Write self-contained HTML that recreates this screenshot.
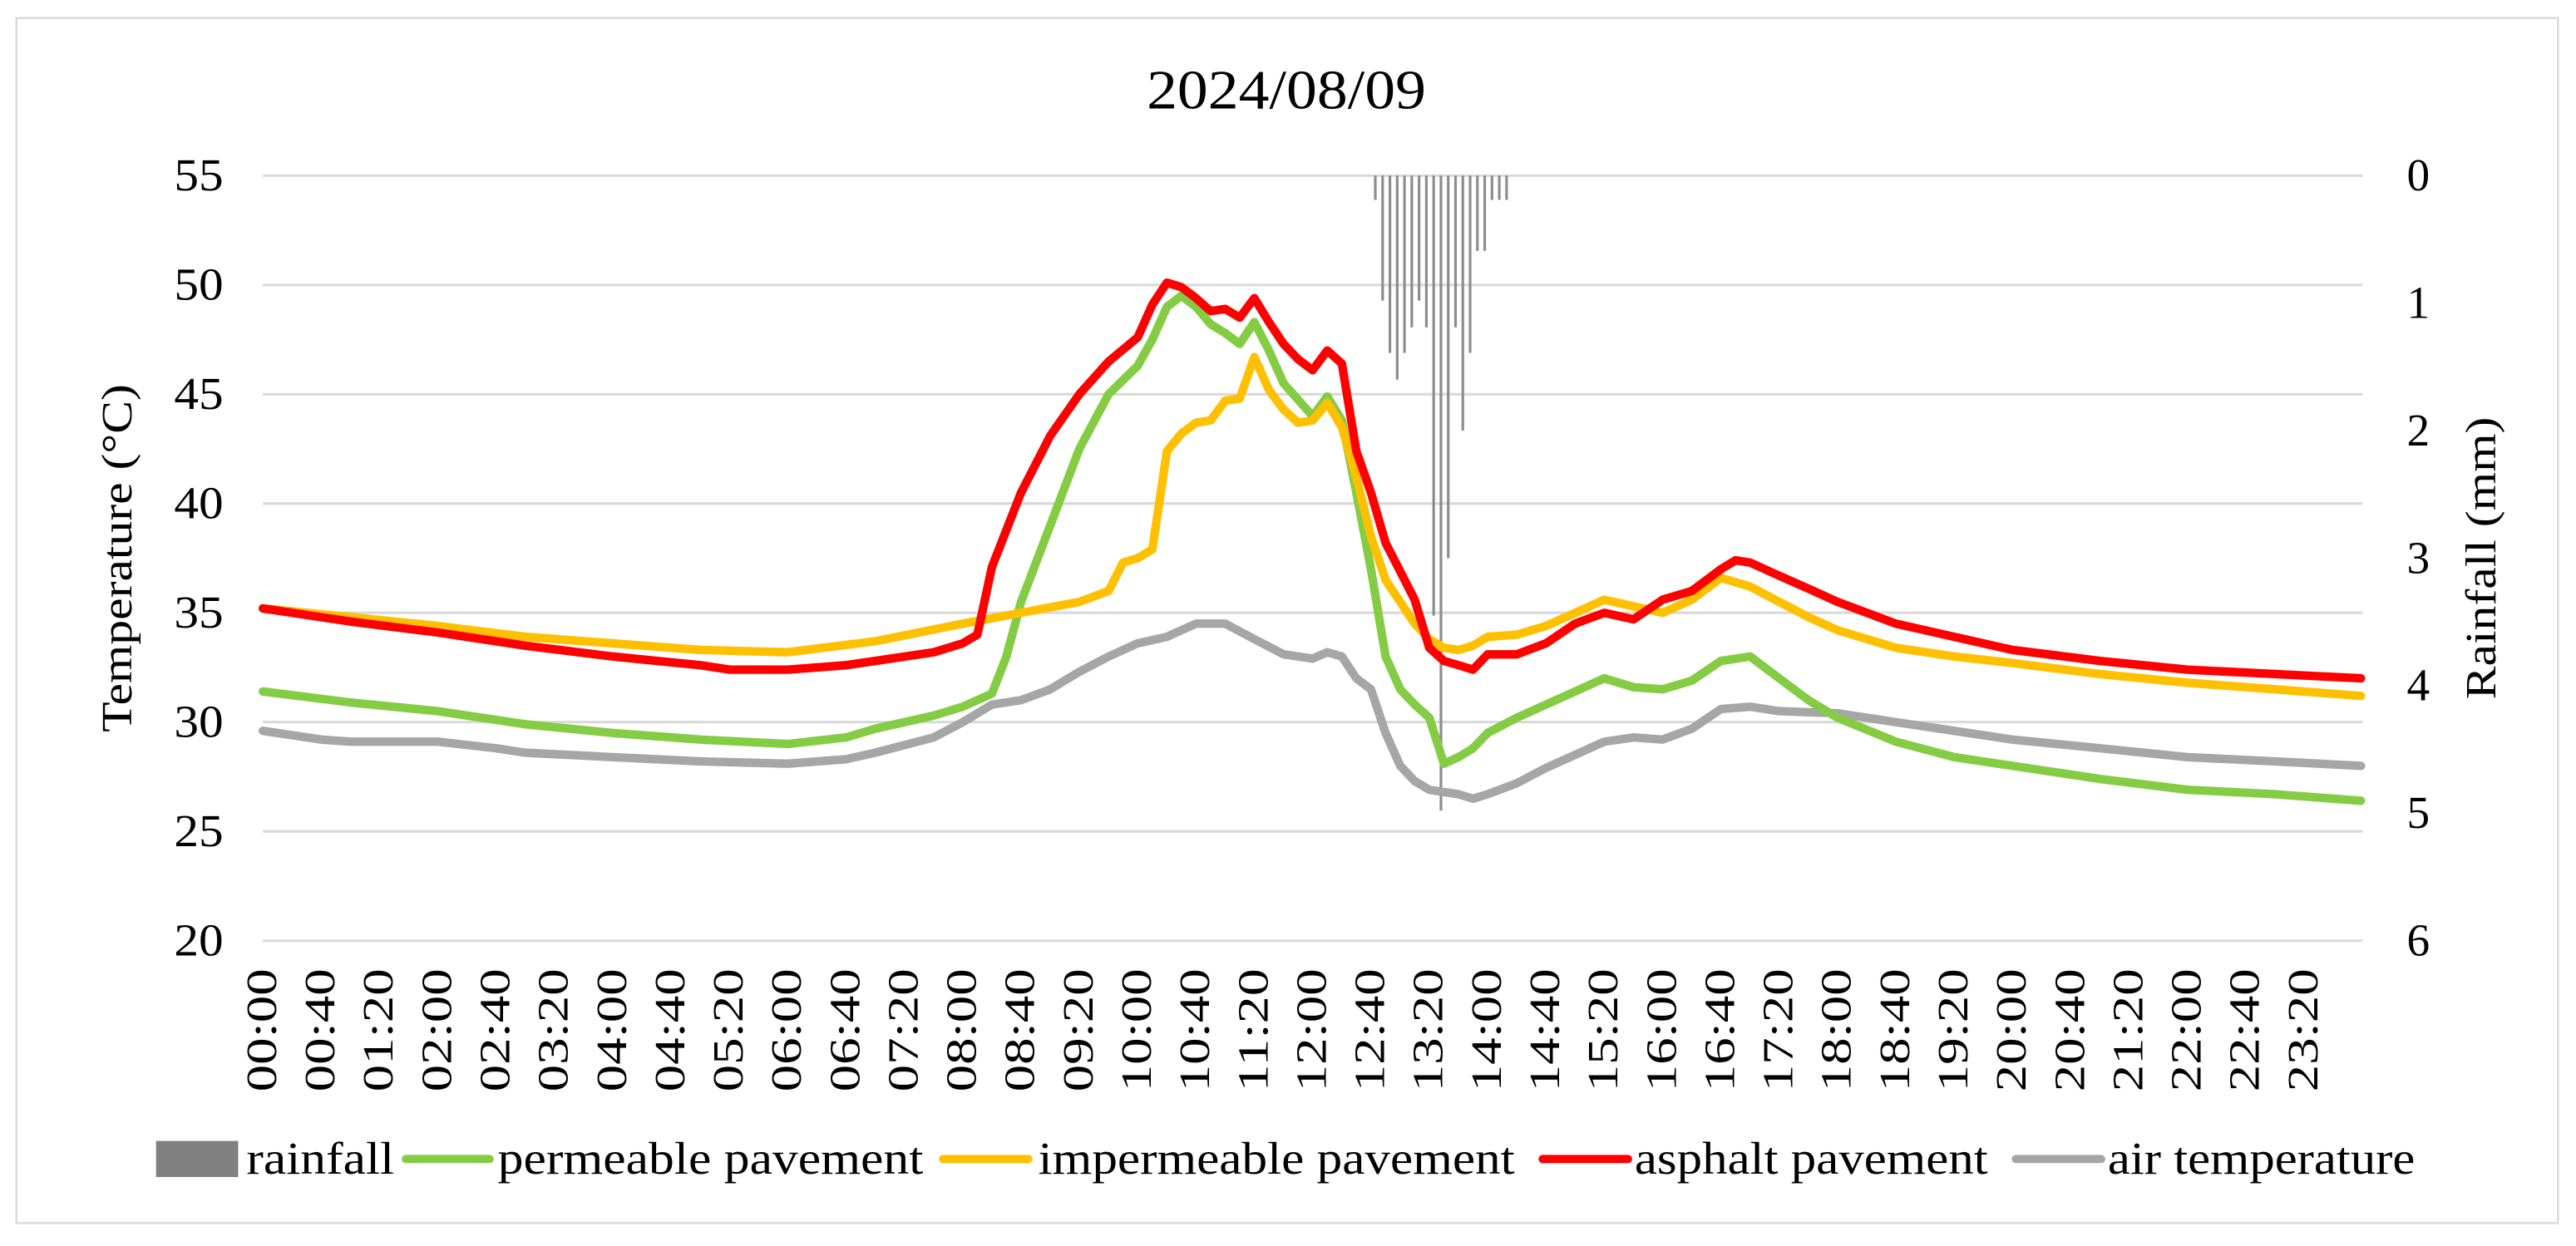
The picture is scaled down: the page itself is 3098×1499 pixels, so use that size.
<!DOCTYPE html>
<html><head><meta charset="utf-8"><style>html,body{margin:0;padding:0;background:#fff}svg{display:block}text{font-family:"Liberation Serif",serif;fill:#000}</style></head>
<body>
<svg id="chart" width="3098" height="1499" viewBox="0 0 1568 759" preserveAspectRatio="none" xmlns="http://www.w3.org/2000/svg">
<rect x="10" y="11" width="1547" height="734" fill="#fff" stroke="#d9d9d9" stroke-width="1.2"/>
<text x="783" y="66" text-anchor="middle" font-size="34" textLength="170" lengthAdjust="spacingAndGlyphs">2024/08/09</text>
<g id="grid"></g><g id="rain"></g><g id="lines"></g><g id="axes"></g>
<text transform="translate(80,340) rotate(-90)" text-anchor="middle" font-size="26" textLength="212" lengthAdjust="spacingAndGlyphs">Temperature (°C)</text>
<text transform="translate(1519,340) rotate(-90)" text-anchor="middle" font-size="26" textLength="172" lengthAdjust="spacingAndGlyphs">Rainfall (mm)</text>
<g>
<rect x="95" y="695" width="50" height="22" fill="#808080"/>
<text x="150" y="715" font-size="28" textLength="90" lengthAdjust="spacingAndGlyphs">rainfall</text>
<line x1="247" y1="706" x2="298" y2="706" stroke="#85cc45" stroke-width="5" stroke-linecap="round"/>
<text x="303" y="715" font-size="28" textLength="259" lengthAdjust="spacingAndGlyphs">permeable pavement</text>
<line x1="574" y1="706" x2="626" y2="706" stroke="#ffc000" stroke-width="5" stroke-linecap="round"/>
<text x="632" y="715" font-size="28" textLength="290" lengthAdjust="spacingAndGlyphs">impermeable pavement</text>
<line x1="939" y1="706" x2="991" y2="706" stroke="#ff0000" stroke-width="5" stroke-linecap="round"/>
<text x="995" y="715" font-size="28" textLength="215" lengthAdjust="spacingAndGlyphs">asphalt pavement</text>
<line x1="1227" y1="706" x2="1279" y2="706" stroke="#a6a6a6" stroke-width="5" stroke-linecap="round"/>
<text x="1283" y="715" font-size="28" textLength="187" lengthAdjust="spacingAndGlyphs">air temperature</text>
</g>
</svg>
<script>
const tempTicks=[20,25,30,35,40,45,50,55];
const rainTicks=[0,1,2,3,4,5,6];
const rainTimes=[763,768,773,778,783,788,793,798,803,808,813,818,823,828,833,838,843,848,853];
const rainValues=[0.19,0.98,1.39,1.6,1.39,1.19,0.98,1.19,3.45,4.98,3.0,1.19,2.0,1.39,0.59,0.59,0.19,0.19,0.19];
const asphaltTimes=[0,60,120,180,240,300,320,360,400,420,460,480,490,500,520,540,560,580,600,610,620,630,640,650,660,670,680,690,700,710,720,730,740,750,760,770,780,790,800,810,820,830,840,860,880,900,920,940,960,980,1000,1010,1020,1040,1060,1080,1120,1160,1200,1260,1320,1380,1439];
const asphaltValues=[35.2,34.6,34.1,33.5,33.0,32.6,32.4,32.4,32.6,32.8,33.2,33.6,34.0,37.1,40.5,43.1,45.0,46.5,47.6,49.1,50.1,49.9,49.4,48.8,48.9,48.5,49.4,48.3,47.3,46.6,46.1,47.0,46.4,42.4,40.5,38.2,36.9,35.6,33.4,32.8,32.6,32.4,33.1,33.1,33.6,34.5,35.0,34.7,35.6,36.0,37.0,37.4,37.3,36.7,36.1,35.5,34.5,33.9,33.3,32.8,32.4,32.2,32.0];
const impermTimes=[0,60,120,180,240,300,360,420,480,520,560,580,590,600,610,620,630,640,650,660,670,680,690,700,710,720,730,740,750,760,770,780,790,800,810,820,830,840,860,880,900,920,940,960,970,980,1000,1020,1040,1060,1080,1120,1160,1200,1260,1320,1380,1439];
const impermValues=[35.2,34.8,34.4,33.9,33.6,33.3,33.2,33.7,34.5,35.0,35.5,36.0,37.3,37.5,37.9,42.4,43.2,43.7,43.8,44.7,44.8,46.7,45.2,44.3,43.7,43.8,44.6,43.5,41.2,38.5,36.5,35.5,34.5,33.8,33.4,33.3,33.5,33.9,34.0,34.4,35.0,35.6,35.3,35.0,35.3,35.6,36.6,36.2,35.5,34.8,34.2,33.4,33.0,32.7,32.2,31.8,31.5,31.2];
const permTimes=[0,60,120,180,240,300,360,400,420,460,480,500,510,520,540,560,580,600,610,620,630,640,650,660,670,680,690,700,720,730,740,750,760,770,780,790,800,810,820,830,840,860,880,900,920,940,960,980,1000,1020,1040,1060,1080,1120,1160,1200,1260,1320,1380,1439];
const permValues=[31.4,30.9,30.5,29.9,29.5,29.2,29.0,29.3,29.7,30.3,30.7,31.3,33.0,35.5,39.0,42.5,45.0,46.3,47.5,49.0,49.5,49.0,48.2,47.8,47.3,48.3,47.0,45.5,44.0,44.9,43.8,40.5,37.0,33.0,31.5,30.8,30.2,28.1,28.4,28.8,29.5,30.2,30.8,31.4,32.0,31.6,31.5,31.9,32.8,33.0,32.0,31.0,30.2,29.1,28.4,28.0,27.4,26.9,26.7,26.4];
const airTimes=[0,40,60,120,160,180,240,300,360,400,420,460,480,500,520,540,560,580,600,620,640,660,680,700,720,730,740,750,760,770,780,790,800,820,830,840,860,880,900,920,940,960,980,1000,1020,1040,1080,1120,1160,1200,1260,1320,1380,1439];
const airValues=[29.6,29.2,29.1,29.1,28.8,28.6,28.4,28.2,28.1,28.3,28.6,29.3,30.0,30.8,31.0,31.5,32.3,33.0,33.6,33.9,34.5,34.5,33.8,33.1,32.9,33.2,33.0,32.0,31.5,29.5,28.0,27.3,26.9,26.7,26.5,26.7,27.2,27.9,28.5,29.1,29.3,29.2,29.7,30.6,30.7,30.5,30.4,30.0,29.6,29.2,28.8,28.4,28.2,28.0];
const xLabels=[];for(let m=0;m<=1400;m+=40){xLabels.push(String(Math.floor(m/60)).padStart(2,'0')+':'+String(m%60).padStart(2,'0'));}

const NS='http://www.w3.org/2000/svg';
const X0=160,X1=1438,Y0=107,Y1=573;
const xs=m=>X0+(X1-X0)*m/1440;
const yT=v=>Y1-(v-20)/35*(Y1-Y0);
const yR=v=>Y0+v/6*(Y1-Y0);
function mk(tag,attrs,parent){const e=document.createElementNS(NS,tag);for(const k in attrs)e.setAttribute(k,attrs[k]);parent.appendChild(e);return e;}
const grid=document.getElementById('grid'),axes=document.getElementById('axes'),rain=document.getElementById('rain'),lines=document.getElementById('lines');
tempTicks.forEach(t=>{
  const l=mk('line',{x1:X0,x2:X1,y1:yT(t),y2:yT(t),stroke:'#d9d9d9','stroke-width':1.6},grid);
  
  
  const tx=mk('text',{x:136,y:yT(t)+9,'text-anchor':'end','font-size':28,textLength:30,lengthAdjust:'spacingAndGlyphs'},axes);
  tx.textContent=t;
  
  
});
rainTicks.forEach(t=>{
  const tx=mk('text',{x:1472,y:yR(t)+9,'text-anchor':'middle','font-size':28},axes);
  tx.textContent=t;
  
  
});
xLabels.forEach((s,i)=>{
  const x=xs(i*40)+8;
  const tx=mk('text',{transform:`translate(${x},590) rotate(-90)`,'text-anchor':'end','font-size':26,textLength:75,lengthAdjust:'spacingAndGlyphs'},axes);
  tx.textContent=s;
  
  
});
rainTimes.forEach((t,i)=>{
  const b=mk('rect',{x:xs(t)-0.8,y:Y0,width:1.6,height:yR(rainValues[i])-Y0,fill:'#8c8c8c'},rain);
  
  
});
function series(times,vals,color,name){
  const d=times.map((t,i)=>(i?'L':'M')+xs(t).toFixed(1)+','+yT(vals[i]).toFixed(1)).join('');
  const p=mk('path',{d:d,fill:'none',stroke:color,'stroke-width':5.2,'stroke-linejoin':'round','stroke-linecap':'round'},lines);
  
  
}
series(airTimes,airValues,'#a6a6a6','air-temperature-line');
series(permTimes,permValues,'#85cc45','permeable-pavement-line');
series(impermTimes,impermValues,'#ffc000','impermeable-pavement-line');
series(asphaltTimes,asphaltValues,'#ff0000','asphalt-pavement-line');
</script>
</body></html>
